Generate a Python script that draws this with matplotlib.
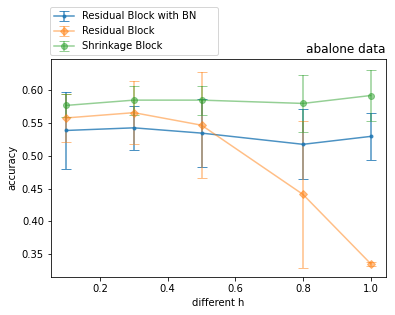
import matplotlib
matplotlib.use("Agg")
import matplotlib.pyplot as plt

h_values = [0.1, 0.3, 0.5, 0.8, 1.0]

bn_mean = [0.538, 0.542, 0.534, 0.517, 0.529]
bn_err = [0.059, 0.033, 0.052, 0.053, 0.036]

res_mean = [0.557, 0.565, 0.546, 0.441, 0.336]
res_err = [0.036, 0.048, 0.080, 0.112, 0.003]

shrink_mean = [0.576, 0.584, 0.584, 0.579, 0.591]
shrink_err = [0.017, 0.022, 0.022, 0.043, 0.039]


def main() -> None:
    fig = plt.figure(figsize=(395 / 72, 315 / 72), dpi=72)
    ax = fig.add_axes([0.129, 0.121, 0.848, 0.692])

    ax.errorbar(h_values, bn_mean, yerr=bn_err, marker=".", ms=6, capsize=5,
                alpha=0.8, label="Residual Block with BN")
    ax.errorbar(h_values, res_mean, yerr=res_err, marker="D", ms=5, capsize=5,
                alpha=0.5, label="Residual Block")
    ax.errorbar(h_values, shrink_mean, yerr=shrink_err, marker="o", ms=6, capsize=5,
                alpha=0.5, label="Shrinkage Block")

    ax.set_ylim(0.316, 0.6465)
    ax.set_xlabel("different h")
    ax.set_ylabel("accuracy")
    ax.set_title("abalone data", loc="right")

    handles, labels = ax.get_legend_handles_labels()
    fig.legend(handles, labels, loc="upper left", mode="expand",
               bbox_to_anchor=(50 / 395, 1 - 55 / 315, 168 / 395, 48 / 315),
               borderaxespad=0)

    fig.savefig("out.png", dpi=72)


if __name__ == "__main__":
    main()
